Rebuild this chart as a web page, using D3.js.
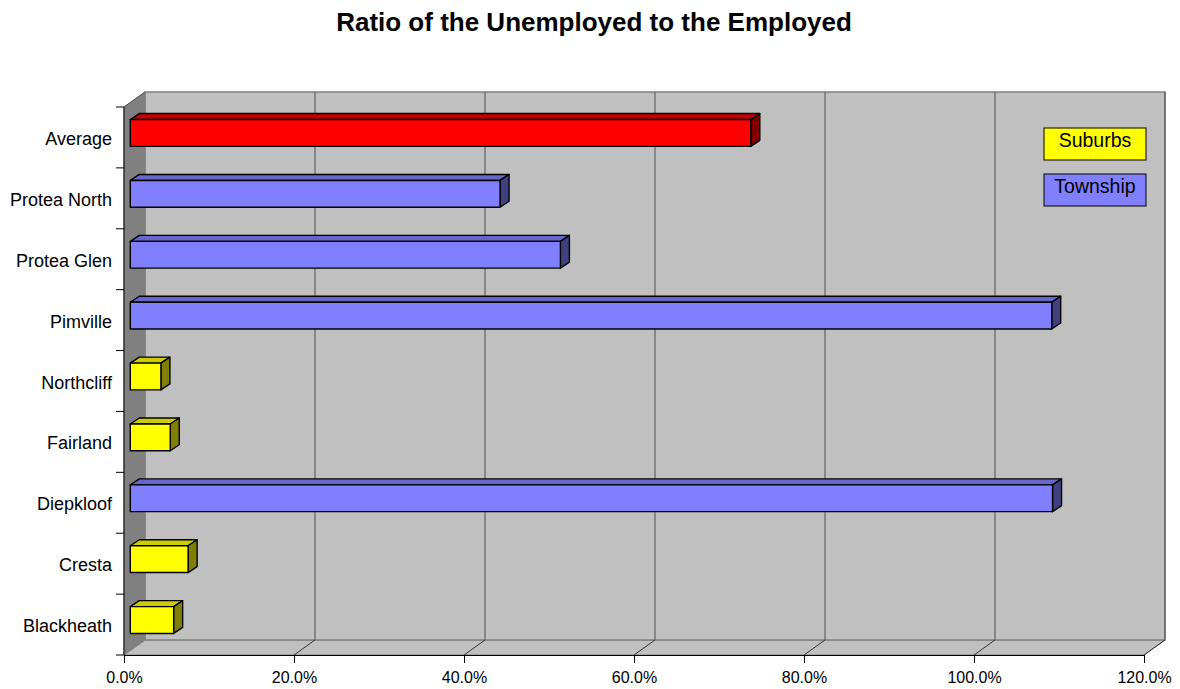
<!DOCTYPE html>
<html>
<head>
<meta charset="utf-8">
<script src="https://cdn.jsdelivr.net/npm/d3@7"></script>
<style>
  body { margin: 0; background: #fff; }
  svg text { font-family: "Liberation Sans", Arial, sans-serif; fill: #000; }
</style>
</head>
<body>
<svg id="chart" width="1180" height="689"></svg>
<script>
// data (top to bottom)
var categories = ["Average", "Protea North", "Protea Glen", "Pimville", "Northcliff",
                  "Fairland", "Diepkloof", "Cresta", "Blackheath"];
var ratios = [0.730, 0.435, 0.506, 1.084, 0.036, 0.047, 1.085, 0.068, 0.051];
var groups = ["Average", "Township", "Township", "Township", "Suburbs",
              "Suburbs", "Township", "Suburbs", "Suburbs"];
var xTicks = [0, 0.2, 0.4, 0.6, 0.8, 1.0, 1.2];
var legendLabels = ["Suburbs", "Township"];

// colours: front, top, side
var palette = {
  Average:  ["#ff0000", "#c80000", "#800000"],
  Township: ["#8080ff", "#6666cc", "#404080"],
  Suburbs:  ["#ffff00", "#cccc00", "#808000"]
};

var svg = d3.select("#chart");

// front plane of the plot and the depth of the box
var plotLeft = 124, plotRight = 1144, plotTop = 107, plotBottom = 655;
var DX = 21, DY = -15;

var x = d3.scaleLinear().domain([0, 1.2]).range([plotLeft, plotRight]);
var y = d3.scaleBand().domain(categories).range([plotTop, plotBottom]);

// title
svg.append("text")
  .attr("x", 594).attr("y", 31)
  .attr("text-anchor", "middle")
  .style("font-size", "26px").style("font-weight", "bold")
  .text("Ratio of the Unemployed to the Employed");

// floor
svg.append("polygon")
  .attr("points", [[plotLeft, plotBottom], [plotRight, plotBottom], [plotRight + DX, plotBottom + DY], [plotLeft + DX, plotBottom + DY]].join(" "))
  .attr("fill", "#c0c0c0").attr("stroke", "#808080");

// back wall
svg.append("rect")
  .attr("x", plotLeft + DX).attr("y", plotTop + DY)
  .attr("width", plotRight - plotLeft).attr("height", plotBottom - plotTop)
  .attr("fill", "#c0c0c0").attr("stroke", "#808080").attr("stroke-width", 1.5);

// left wall
svg.append("polygon")
  .attr("points", [[plotLeft, plotTop], [plotLeft + DX, plotTop + DY], [plotLeft + DX, plotBottom + DY], [plotLeft, plotBottom]].join(" "))
  .attr("fill", "#808080").attr("stroke", "#808080");

// gridlines on the back wall and floor
var grid = svg.append("g");
xTicks.slice(1).forEach(function(t) {
  grid.append("line")
    .attr("x1", x(t) + DX).attr("x2", x(t) + DX)
    .attr("y1", plotTop + DY).attr("y2", plotBottom + DY)
    .attr("stroke", "#505050");
  grid.append("line")
    .attr("x1", x(t)).attr("y1", plotBottom)
    .attr("x2", x(t) + DX).attr("y2", plotBottom + DY)
    .attr("stroke", "#303030");
});

// bars
var fx = 6.3, fy = -4.5;     // front face sits a bit inside the depth
var bdx = 9, bdy = -6;       // bar depth
var barH = y.bandwidth() * 0.44;

var bars = svg.append("g").selectAll("g")
  .data(categories.map(function(c, i) { return {cat: c, v: ratios[i], g: groups[i]}; }))
  .join("g");

bars.each(function(d) {
  var g = d3.select(this);
  var col = palette[d.g];
  var xa = x(0) + fx, xb = x(d.v) + fx;
  var cy = y(d.cat) + y.bandwidth() / 2 + fy;
  var yt = cy - barH / 2, yb = cy + barH / 2;
  g.append("polygon")
    .attr("points", [[xa, yt], [xb, yt], [xb + bdx, yt + bdy], [xa + bdx, yt + bdy]].join(" "))
    .attr("fill", col[1]);
  g.append("polygon")
    .attr("points", [[xb, yt], [xb + bdx, yt + bdy], [xb + bdx, yb + bdy], [xb, yb]].join(" "))
    .attr("fill", col[2]);
  g.append("rect")
    .attr("x", xa).attr("y", yt)
    .attr("width", xb - xa).attr("height", yb - yt)
    .attr("fill", col[0]);
  g.selectAll("polygon, rect")
    .attr("stroke", "#000").attr("stroke-width", 1.4).attr("stroke-linejoin", "round");
});

// x axis
var xAxis = svg.append("g")
  .attr("transform", "translate(0," + plotBottom + ")")
  .call(d3.axisBottom(x).tickValues(xTicks).tickFormat(d3.format(".1%")).tickSize(8).tickSizeOuter(0).tickPadding(9));
xAxis.selectAll("text").style("font-size", "16px").attr("font-family", null);
xAxis.selectAll("path, line").attr("stroke", "#000");

// y axis: labels at band centres, ticks at band boundaries
var yAxis = svg.append("g")
  .attr("transform", "translate(" + plotLeft + ",0)")
  .call(d3.axisLeft(y).tickSize(0).tickPadding(12));
yAxis.select(".domain").remove();
yAxis.selectAll("text").style("font-size", "18px").attr("font-family", null).attr("dy", "0.42em");

var bounds = categories.map(function(c) { return y(c); }).concat([plotBottom]);
svg.append("g").selectAll("line")
  .data(bounds)
  .join("line")
  .attr("x1", plotLeft - 8).attr("x2", plotLeft)
  .attr("y1", function(d) { return d; }).attr("y2", function(d) { return d; })
  .attr("stroke", "#000");
svg.append("line")
  .attr("x1", plotLeft).attr("x2", plotLeft).attr("y1", plotTop).attr("y2", plotBottom)
  .attr("stroke", "#000");
svg.append("line")
  .attr("x1", plotLeft).attr("y1", plotTop).attr("x2", plotLeft + DX).attr("y2", plotTop + DY)
  .attr("stroke", "#505050");

// legend
var legend = svg.append("g").selectAll("g")
  .data(legendLabels)
  .join("g")
  .attr("transform", function(d, i) { return "translate(1044," + (128 + i * 46) + ")"; });
legend.append("rect")
  .attr("width", 102).attr("height", 32)
  .attr("fill", function(d) { return palette[d][0]; })
  .attr("stroke", "#000");
legend.append("text")
  .attr("x", 51).attr("y", 19)
  .attr("text-anchor", "middle")
  .style("font-size", "19.5px")
  .text(function(d) { return d; });
</script>
</body>
</html>
